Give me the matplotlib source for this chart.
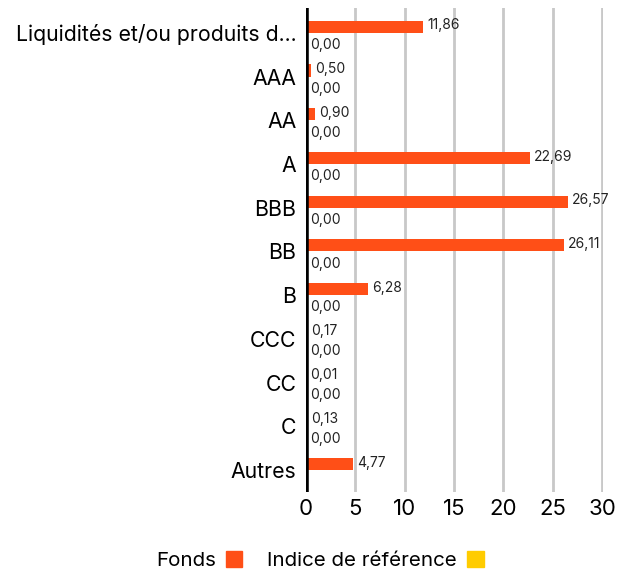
import matplotlib
matplotlib.use("Agg")
import matplotlib.pyplot as plt
from matplotlib.patches import Patch

# categories de notation
categories = ["Liquidités et/ou produits d...", "AAA", "AA", "A", "BBB", "BB",
              "B", "CCC", "CC", "C", "Autres"]
# poids du fonds (%)
fonds = [11.86, 0.50, 0.90, 22.69, 26.57, 26.11, 6.28, 0.17, 0.01, 0.13, 4.77]
# poids de l'indice (None = pas de donnee)
indice = [0.00, 0.00, 0.00, 0.00, 0.00, 0.00, 0.00, 0.00, 0.00, 0.00, None]
xticks = [0, 5, 10, 15, 20, 25, 30]

orange = "#FF4F17"
jaune = "#FFCC00"

plt.rcParams['font.family'] = ['Inter', 'DejaVu Sans']

fig = plt.figure(figsize=(6.27, 5.72), dpi=100)
ax = fig.add_axes([0.488, 0.14, 0.474, 0.846])

h = 0.28
pos = list(range(len(categories)))

def fmt(v):
    return f"{v:.2f}".replace(".", ",")

for i in pos:
    ax.barh(i - h / 2, fonds[i], height=h, color=orange, zorder=3)
    ax.text(fonds[i] + 0.4, i - h / 2 - 0.03, fmt(fonds[i]), fontsize=10,
            va="center", ha="left", color="#222222", zorder=4)
    if indice[i] is not None:
        ax.barh(i + h / 2, indice[i], height=h, color=jaune, zorder=3)
        ax.text(indice[i] + 0.4, i + h / 2 + 0.14, fmt(indice[i]), fontsize=10,
                va="center", ha="left", color="#222222", zorder=4)

ax.set_xlim(0, 30.1)
ax.set_ylim(10.5, -0.57)
ax.set_yticks(pos)
ax.set_yticklabels(categories, fontsize=15.3)
ax.set_xticks(xticks)
ax.set_xticklabels([str(t) for t in xticks], fontsize=16)
ax.tick_params(axis="both", length=0, pad=5)
ax.tick_params(axis="y", pad=7)

for t in xticks[1:]:
    ax.axvline(t, color="#c8c8c8", lw=2, zorder=1)
ax.axvline(0, color="black", lw=4, zorder=5)

for s in ax.spines.values():
    s.set_visible(False)

handles = [Patch(color=orange, label="Fonds"),
           Patch(color=jaune, label="Indice de référence")]
fig.legend(handles=handles, loc="center", bbox_to_anchor=(0.51, 0.02),
           ncol=2, frameon=False, markerfirst=False, fontsize=14.8,
           handlelength=0.8, handleheight=0.8, columnspacing=1.2,
           handletextpad=0.5)

fig.savefig("out.png", dpi=100)
